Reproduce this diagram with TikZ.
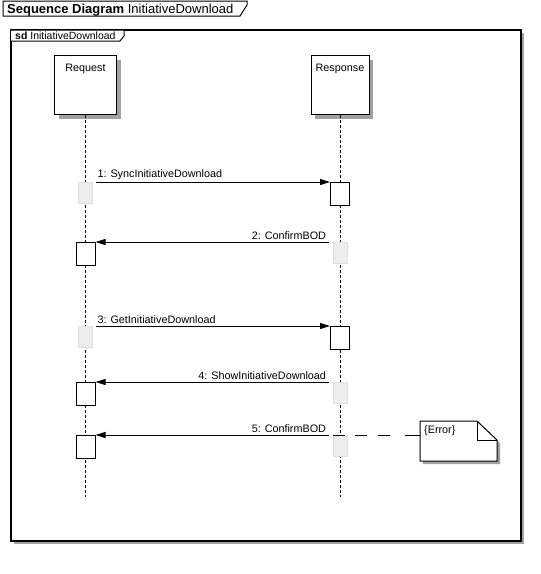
\documentclass[tikz,border=0pt]{standalone}
\usepackage{fontspec}
\setmainfont{Liberation Sans}
\usepackage{tikz}
\usetikzlibrary{arrows.meta, positioning, shadows}

\begin{document}
\begin{tikzpicture}[
    x=1pt, y=-1pt,
    font=\fontsize{10.8}{12}\selectfont,
    tab/.style={draw=black, fill=white, line width=1pt},
    frame/.style={draw=black, fill=white, line width=1.6pt, drop shadow={shadow xshift=3pt, shadow yshift=-3pt, fill=black!37, opacity=1}},
    lifebox/.style={rectangle, draw=black, fill=white, line width=1pt, minimum height=59pt, text height=12pt, text depth=39pt, inner sep=4pt, anchor=north, drop shadow={shadow xshift=4pt, shadow yshift=-4pt, fill=black!37, opacity=1}},
    lifeline/.style={line width=1pt, dash pattern=on 3pt off 2pt},
    act/.style={rectangle, draw=black, fill=white, line width=1pt, minimum width=19pt, minimum height=23pt, inner sep=0pt, anchor=north},
    idle/.style={rectangle, draw=black!12, fill=black!7, line width=1pt, minimum width=14pt, minimum height=21pt, inner sep=0pt, anchor=north},
    msg/.style={-{Triangle[length=10pt, width=6pt]}, line width=1pt},
    msglabel/.style={inner sep=2pt},
    notefold/.style={draw=black, fill=white, line width=1pt, drop shadow={shadow xshift=3pt, shadow yshift=-3pt, fill=black!37, opacity=1}},
    notebox/.style={anchor=north west, text width=69pt, text height=8pt, text depth=24pt, inner sep=4pt},
    notelink/.style={line width=1pt, dash pattern=on 12pt off 10pt on 12pt off 11pt on 12pt off 15pt on 15pt off 10pt},
  ]

  \useasboundingbox (0,0) rectangle (541,574);

  \draw[tab] (3,1) -- (247,1) -- (247,5) -- (240,16) -- (3,16) -- cycle;
  \node[anchor=base west, inner sep=0pt] (title) at (7,13) {\fontsize{13}{15}\selectfont\textbf{Sequence Diagram} InitiativeDownload};

  \draw[frame] (11,30) rectangle (521,541);
  \draw[tab] (11,30) -- (124,30) -- (124,36) -- (120,41) -- (11,41);
  \node[anchor=base west, inner sep=0pt] (sdtab) at (15,39) {\fontsize{10.5}{12}\selectfont\textbf{sd} InitiativeDownload};

  \node[lifebox, minimum width=62pt] (request) at (85.5,55) {Request};
  \node[lifebox, minimum width=58pt] (response) at (340,55) {Response};
  \coordinate (requestend) at (85.5,497);
  \coordinate (responseend) at (340,497);
  \draw[lifeline] (request.south) -- (requestend);
  \draw[lifeline] (response.south) -- (responseend);

  \node[idle] (i1) at (85.5,182) {};
  \node[act] (a1) at (340,182) {};
  \node[idle] (i2) at (340,242) {};
  \node[act] (a2) at (85.5,242) {};
  \node[idle] (i3) at (85.5,326) {};
  \node[act] (a3) at (340,326) {};
  \node[idle] (i4) at (340,382) {};
  \node[act] (a4) at (85.5,382) {};
  \node[idle] (i5) at (340,435) {};
  \node[act] (a5) at (85.5,435) {};

  \draw[msg, shorten <=3pt] (i1.north east) -- node[msglabel, pos=0, above right, xshift=2pt] {1: SyncInitiativeDownload} (a1.north west);
  \draw[msg, shorten <=4pt] (i2.north west) -- node[msglabel, pos=0, above left, xshift=-4pt] {2: ConfirmBOD} (a2.north east);
  \draw[msg, shorten <=3pt] (i3.north east) -- node[msglabel, pos=0, above right, xshift=2pt] {3: GetInitiativeDownload} (a3.north west);
  \draw[msg, shorten <=4pt] (i4.north west) -- node[msglabel, pos=0, above left, xshift=-4pt] {4: ShowInitiativeDownload} (a4.north east);
  \draw[msg, shorten <=4pt] (i5.north west) -- node[msglabel, pos=0, above left, xshift=-4pt] {5: ConfirmBOD} (a5.north east);

  \coordinate (notecorner) at (420,421);
  \draw[notefold] (notecorner) -- ++(57,0) -- ++(20,19) -- ++(0,21) -- ++(-77,0) -- cycle;
  \draw[line width=1pt] ([xshift=57pt]notecorner) |- ([shift={(77pt,-19pt)}]notecorner);
  \node[notebox] (note) at (notecorner) {\{Error\}};
  \draw[notelink] (i5.north west) -- (i5.north west -| notecorner);

\end{tikzpicture}
\end{document}
